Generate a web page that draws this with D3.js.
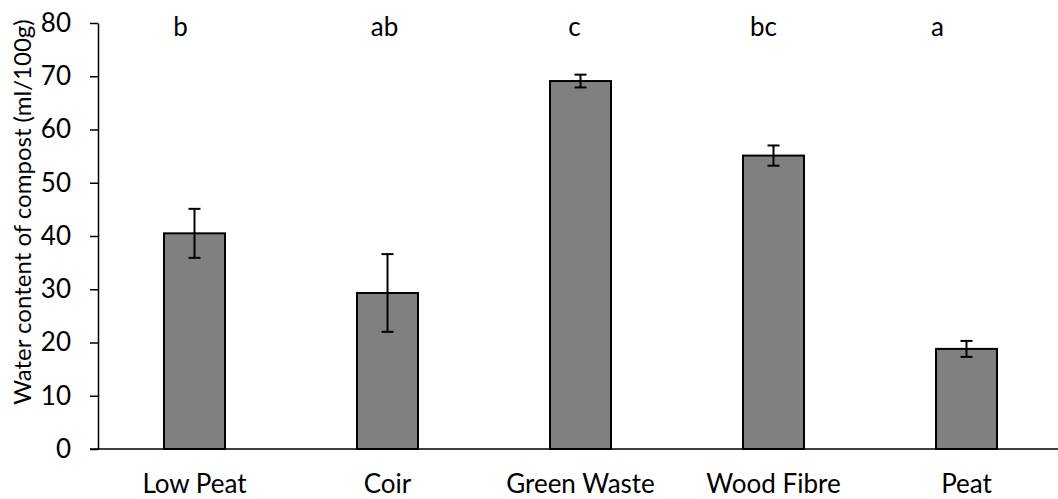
<!DOCTYPE html>
<html>
<head>
<meta charset="utf-8">
<script src="https://cdn.jsdelivr.net/npm/d3@7"></script>
<style>
  html, body { margin: 0; padding: 0; background: #fff; }
  svg { display: block; font-family: Lato, "Open Sans", sans-serif; }
</style>
</head>
<body>
<svg id="chart" width="1058" height="499"></svg>
<script>
// Compost types and measured water content (mean ± error)
const categories = ["Low Peat", "Coir", "Green Waste", "Wood Fibre", "Peat"];
const meanValues = [40.5, 29.3, 69.1, 55.1, 18.8];
const errorValues = [4.6, 7.3, 1.2, 1.9, 1.5];
const groupLetters = ["b", "ab", "c", "bc", "a"];
const yTicks = [0, 10, 20, 30, 40, 50, 60, 70, 80];

// small horizontal nudges for the significance letters (px)
const letterNudge = [-14, -3, -6, -10, -29];

const svg = d3.select("#chart");
const fontSize = 26;

const x = d3.scaleBand()
  .domain(categories)
  .range([98, 1063])
  .paddingInner(0.684)
  .paddingOuter(0.342);

const y = d3.scaleLinear().domain([0, 80]).range([449, 23]);

// y axis
const yAxis = svg.append("g")
  .attr("transform", "translate(98,0)")
  .call(d3.axisLeft(y).tickValues(yTicks).tickSize(8).tickPadding(19).tickSizeOuter(0));
yAxis.select(".domain").attr("stroke", "#000").attr("stroke-width", 1.5);
yAxis.selectAll(".tick line").attr("stroke", "#000").attr("stroke-width", 1.5);
yAxis.selectAll(".tick text")
  .attr("fill", "#000")
  .style("font-size", fontSize + "px")
  .style("font-family", "Lato, 'Open Sans', sans-serif");

// bars
svg.append("g").selectAll("rect")
  .data(categories)
  .join("rect")
  .attr("x", d => x(d))
  .attr("y", (d, i) => y(meanValues[i]))
  .attr("width", x.bandwidth())
  .attr("height", (d, i) => y(0) - y(meanValues[i]))
  .attr("fill", "#808080")
  .attr("stroke", "#000")
  .attr("stroke-width", 2);

// x axis baseline
svg.append("line")
  .attr("x1", 90).attr("x2", 1058)
  .attr("y1", y(0)).attr("y2", y(0))
  .attr("stroke", "#000").attr("stroke-width", 1.5);

// error bars
const capHalf = 6;
const err = svg.append("g").attr("stroke", "#000").attr("stroke-width", 2);
categories.forEach((c, i) => {
  const cx = x(c) + x.bandwidth() / 2;
  const hi = y(meanValues[i] + errorValues[i]);
  const lo = y(meanValues[i] - errorValues[i]);
  err.append("line").attr("x1", cx).attr("x2", cx).attr("y1", hi).attr("y2", lo);
  err.append("line").attr("x1", cx - capHalf).attr("x2", cx + capHalf).attr("y1", hi).attr("y2", hi);
  err.append("line").attr("x1", cx - capHalf).attr("x2", cx + capHalf).attr("y1", lo).attr("y2", lo);
});

// category labels
svg.append("g").selectAll("text")
  .data(categories)
  .join("text")
  .attr("x", d => x(d) + x.bandwidth() / 2)
  .attr("y", 493)
  .attr("text-anchor", "middle")
  .style("font-size", fontSize + "px")
  .attr("fill", "#000")
  .text(d => d);

// significance letters
svg.append("g").selectAll("text")
  .data(groupLetters)
  .join("text")
  .attr("x", (d, i) => x(categories[i]) + x.bandwidth() / 2 + letterNudge[i])
  .attr("y", 36)
  .attr("text-anchor", "middle")
  .style("font-size", fontSize + "px")
  .attr("fill", "#000")
  .text(d => d);

// y axis title
svg.append("text")
  .attr("transform", "translate(31,212) rotate(-90)")
  .attr("text-anchor", "middle")
  .style("font-size", "24px")
  .attr("fill", "#000")
  .text("Water content of compost (ml/100g)");
</script>
</body>
</html>
